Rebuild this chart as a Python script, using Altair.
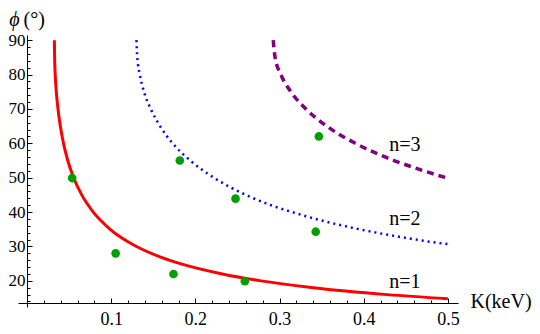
import altair as alt
import pandas as pd

# Curves: K (keV) vs phi (degrees)
n1_K = [0.0325, 0.0328, 0.0335, 0.0348, 0.0368, 0.0396, 0.0433, 0.0484, 0.0554, 0.065,
        0.0787, 0.0988, 0.130, 0.158, 0.182, 0.232, 0.278, 0.340, 0.428, 0.5]
n1_phi = [90, 85, 80, 75, 70, 65, 60, 55, 50, 45, 40, 35, 30, 27, 25, 22, 20, 18, 16, 14.8]

n2_K = [0.130, 0.131, 0.134, 0.139, 0.147, 0.158, 0.173, 0.194, 0.222, 0.260,
        0.290, 0.315, 0.343, 0.395, 0.438, 0.490, 0.5]
n2_phi = [90, 85, 80, 75, 70, 65, 60, 55, 50, 45, 42, 40, 38, 35, 33, 31, 30.7]

n3_K = [0.2925, 0.2947, 0.3016, 0.3135, 0.3313, 0.3561, 0.390, 0.416, 0.436, 0.459, 0.484, 0.4985]
n3_phi = [90, 85, 80, 75, 70, 65, 60, 57, 55, 53, 51, 50]

# Measured points
dots_K = [0.0536, 0.1053, 0.174, 0.1815, 0.2477, 0.2588, 0.343, 0.3467]
dots_phi = [49.9, 28.0, 22.0, 55.0, 43.9, 19.9, 34.3, 62.0]

# Curve labels
label_text = ["n=1", "n=2", "n=3"]
label_K = [0.449, 0.449, 0.449]
label_phi = [19.7, 38.0, 59.5]

x_major = [0.1, 0.2, 0.3, 0.4, 0.5]
x_ticks = [round(0.02 * i, 2) for i in range(1, 26)]
y_major = [20, 30, 40, 50, 60, 70, 80, 90]
y_ticks = list(range(14, 92, 2))

W, H = 440, 272
XDOM = [-0.0107, 0.512]
YDOM = [12.4, 91.5]
FONT = "Liberation Serif"

def curve_df(K, phi):
    return pd.DataFrame({"K": K, "phi": phi, "o": list(range(len(K)))})

xs = alt.Scale(domain=XDOM, nice=False, zero=False)
ys = alt.Scale(domain=YDOM, nice=False, zero=False)

main_x_axis = alt.Axis(orient="bottom", offset=-4, values=x_major, format=".1f",
                       ticks=False, tickSize=0, grid=False, domainColor="black", domainWidth=1,
                       labelFont=FONT, labelFontSize=18, labelColor="black", labelPadding=7,
                       labelFlush=False,
                       title="K(keV)", titleX=452, titleY=-2, titleAlign="left",
                       titleBaseline="middle", titleFont=FONT, titleFontSize=20,
                       titleFontWeight="normal", titleColor="black")
main_y_axis = alt.Axis(orient="left", offset=-9, values=y_major, format="d",
                       ticks=False, tickSize=0, grid=False, domainColor="black", domainWidth=1,
                       labelFont=FONT, labelFontSize=17, labelColor="black", labelPadding=2,
                       title="ϕ", titleAngle=0, titleX=-13, titleY=-26, titleAlign="center",
                       titleBaseline="top", titleFont=FONT, titleFontSize=20,
                       titleFontStyle="italic", titleFontWeight="normal", titleColor="black")

tick_x_axis = alt.Axis(orient="top", offset=-(H - 4), values=x_ticks, labels=False,
                       domain=False, grid=False, tickColor="black", tickWidth=1,
                       tickSize={"condition": {"test": "abs(datum.value*10 - round(datum.value*10)) < 0.001",
                                               "value": 5}, "value": 3},
                       title=None)
tick_y_axis = alt.Axis(orient="right", offset=-(W - 9), values=y_ticks, labels=False,
                       domain=False, grid=False, tickColor="black", tickWidth=1,
                       tickSize={"condition": {"test": "datum.value % 10 == 0", "value": 5}, "value": 3},
                       title="(°)", titleAngle=0, titleX=-4, titleY=-26, titleAlign="left",
                       titleBaseline="top", titleFont=FONT, titleFontSize=20,
                       titleFontWeight="normal", titleColor="black")

red = alt.Chart(curve_df(n1_K, n1_phi)).mark_line(
    color="#FF0000", strokeWidth=3, interpolate="monotone"
).encode(
    x=alt.X("K:Q", scale=xs, axis=main_x_axis),
    y=alt.Y("phi:Q", scale=ys, axis=main_y_axis),
    order="o:Q",
)

blue = alt.Chart(curve_df(n2_K, n2_phi)).mark_line(
    color="#0000FF", strokeWidth=2.5, strokeDash=[2, 4], interpolate="monotone"
).encode(
    x=alt.X("K:Q", scale=xs, axis=None),
    y=alt.Y("phi:Q", scale=ys, axis=None),
    order="o:Q",
)

purple = alt.Chart(curve_df(n3_K, n3_phi)).mark_line(
    color="#800080", strokeWidth=3.5, strokeDash=[7, 5], interpolate="monotone"
).encode(
    x=alt.X("K:Q", scale=xs, axis=None),
    y=alt.Y("phi:Q", scale=ys, axis=None),
    order="o:Q",
)

dots = alt.Chart(pd.DataFrame({"K": dots_K, "phi": dots_phi})).mark_circle(
    color="#00A000", opacity=1, size=75
).encode(
    x=alt.X("K:Q", scale=xs, axis=tick_x_axis),
    y=alt.Y("phi:Q", scale=ys, axis=tick_y_axis),
)

labels = alt.Chart(pd.DataFrame({"t": label_text, "K": label_K, "phi": label_phi})).mark_text(
    font=FONT, fontSize=20, color="black", align="center", baseline="middle"
).encode(
    x=alt.X("K:Q", scale=xs, axis=None),
    y=alt.Y("phi:Q", scale=ys, axis=None),
    text="t:N",
)

chart = alt.layer(red, blue, purple, dots, labels).resolve_axis(
    x="independent", y="independent"
).properties(
    width=W, height=H,
    autosize=alt.AutoSizeParams(type="none"),
    padding={"left": 10, "top": 27, "right": 74, "bottom": 21},
).configure_view(stroke=None)

chart.save("out.html", embed_options={"renderer": "svg", "actions": False})
